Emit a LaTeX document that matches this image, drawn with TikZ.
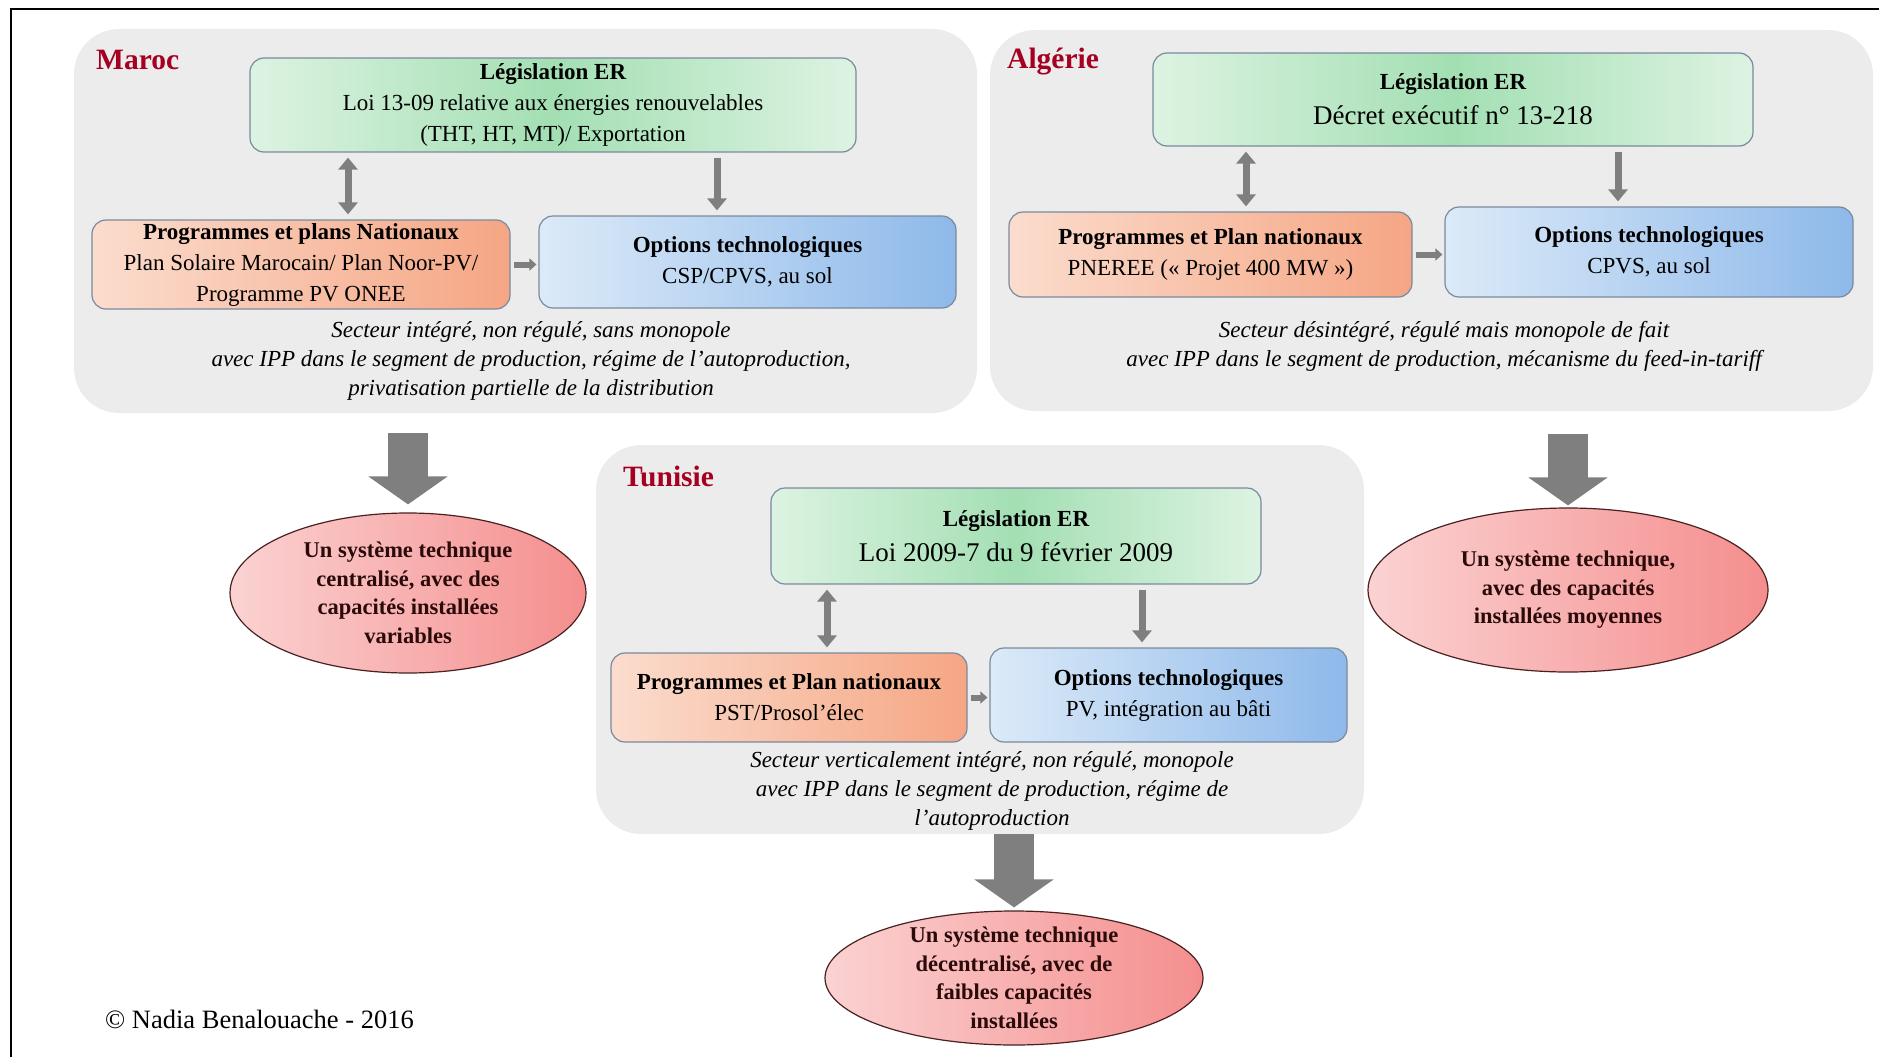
\documentclass[tikz,border=0pt]{standalone}
\usepackage{fontspec}
\setmainfont{Liberation Serif}
\usetikzlibrary{arrows.meta,calc,shapes.geometric}

\definecolor{panelgray}{HTML}{ECECEC}
\definecolor{boxedge}{HTML}{7A8A9E}
\definecolor{greenedge}{HTML}{DDF3E2}
\definecolor{greenmid}{HTML}{A3DFB3}
\definecolor{orangelight}{HTML}{FBDCCD}
\definecolor{orangedark}{HTML}{F5A684}
\definecolor{bluelight}{HTML}{DCEAF8}
\definecolor{bluedark}{HTML}{8EB9EA}
\definecolor{pinklight}{HTML}{FBD2D2}
\definecolor{pinkdark}{HTML}{F58E8E}
\definecolor{ellipseedge}{HTML}{4A2020}
\definecolor{resulttext}{HTML}{2B0A0A}
\definecolor{arrowgray}{HTML}{7F7F7F}
\definecolor{titlered}{HTML}{A50021}

\begin{document}
\begin{tikzpicture}[x=1pt,y=-1pt,
  every node/.style={font=\fontsize{23}{31}\selectfont, align=center, inner sep=0pt},
  panel/.style={fill=panelgray, rounded corners=45pt},
  box/.style={draw=boxedge, line width=1.2pt, rounded corners=14pt},
  legis/.style={box, left color=greenedge, right color=greenedge, middle color=greenmid},
  prog/.style={box, left color=orangelight, right color=orangedark},
  opt/.style={box, left color=bluelight, right color=bluedark},
  result/.style={ellipse, draw=ellipseedge, line width=1.2pt, left color=pinklight, right color=pinkdark,
    text=resulttext, font=\bfseries\fontsize{22.5}{28.5}\selectfont},
  country/.style={anchor=west, text=titlered, font=\bfseries\fontsize{29.5}{32}\selectfont},
  note/.style={font=\itshape\fontsize{23}{29}\selectfont},
  hd/.style={font=\fontsize{27}{35}\selectfont},
  link/.style={draw=arrowgray, line width=7pt, shorten <=5pt, shorten >=5pt, -{Triangle[width=19pt,length=12pt]}},
  dlink/.style={link, {Triangle[width=19pt,length=12pt]}-{Triangle[width=19pt,length=12pt]}},
  slink/.style={draw=arrowgray, line width=6pt, shorten <=3pt, shorten >=2pt, -{Triangle[width=12pt,length=7pt]}},
  bigarrow/.style={draw=arrowgray, line width=40pt, -{Triangle[width=78pt,length=28pt]}}]

  \useasboundingbox (0,0) rectangle (1879,1057);
  \draw[line width=2.5pt] (11,1080) -- (11,9) -- (1890,9);

  \node[panel, minimum width=903pt, minimum height=384pt] (maroc) at (525.5,221) {};
  \node[panel, minimum width=883pt, minimum height=381pt] (algerie) at (1431.5,220.5) {};
  \node[panel, minimum width=768pt, minimum height=389pt] (tunisie) at (980,639.5) {};

  \node[country] (tMaroc) at (96,60) {Maroc};
  \node[country] (tAlgerie) at (1007,62) {Algérie};
  \node[country] (tTunisie) at (623,476) {Tunisie};

  \node[legis, minimum width=606pt, minimum height=94pt] (legM) at (553,105)
    {{\fontsize{23}{31}\selectfont\bfseries Législation ER}\\Loi 13-09 relative aux énergies renouvelables\\(THT, HT, MT)/ Exportation};
  \node[prog, minimum width=418pt, minimum height=89pt] (progM) at (301,264.5)
    {{\fontsize{23}{31}\selectfont\bfseries Programmes et plans Nationaux}\\Plan Solaire Marocain/ Plan Noor-PV/\\Programme PV ONEE};
  \node[opt, minimum width=417pt, minimum height=92pt] (optM) at (747.5,262)
    {{\fontsize{23}{29}\selectfont\bfseries Options technologiques}\\CSP/CPVS, au sol};
  \node[note] (noteM) at (531,361)
    {Secteur intégré, non régulé, sans monopole\\avec IPP dans le segment de production, régime de l’autoproduction,\\privatisation partielle de la distribution};

  \node[legis, hd, minimum width=600pt, minimum height=93pt] (legA) at (1453,99.5)
    {{\fontsize{23}{35}\selectfont\bfseries Législation ER}\\Décret exécutif n° 13-218};
  \node[prog, minimum width=403pt, minimum height=85pt] (progA) at (1210.5,254.5)
    {{\fontsize{23}{31}\selectfont\bfseries Programmes et Plan nationaux}\\PNEREE («~Projet 400 MW~»)};
  \node[opt, minimum width=408pt, minimum height=90pt] (optA) at (1649,252)
    {{\fontsize{23}{29}\selectfont\bfseries Options technologiques}\\CPVS, au sol};
  \node[note] (noteA) at (1444,346.5)
    {Secteur désintégré, régulé mais monopole de fait\\avec IPP dans le segment de production, mécanisme du feed-in-tariff};

  \node[legis, hd, minimum width=490pt, minimum height=96pt] (legT) at (1016,536)
    {{\fontsize{23}{35}\selectfont\bfseries Législation ER}\\Loi 2009-7 du 9 février 2009};
  \node[prog, minimum width=356pt, minimum height=89pt] (progT) at (789,697.5)
    {{\fontsize{23}{31}\selectfont\bfseries Programmes et Plan nationaux}\\PST/Prosol’élec};
  \node[opt, minimum width=357pt, minimum height=94pt] (optT) at (1168.5,695)
    {{\fontsize{23}{29}\selectfont\bfseries Options technologiques}\\PV, intégration au bâti};
  \node[note] (noteT) at (992,791)
    {Secteur verticalement intégré, non régulé, monopole\\avec IPP dans le segment de production, régime de\\l’autoproduction};

  \node[result, minimum width=356pt, minimum height=160pt] (resM) at (408,593)
    {Un système technique\\centralisé, avec des\\capacités installées\\variables};
  \node[result, minimum width=400pt, minimum height=164pt] (resA) at (1568,590)
    {Un système technique,\\avec des capacités\\installées moyennes};
  \node[result, inner ysep=-6pt, minimum width=378pt, minimum height=134pt] (resT) at (1014,978)
    {Un système technique\\décentralisé, avec de\\faibles capacités\\installées};

  \node[anchor=west, font=\fontsize{26.5}{30}\selectfont] (copy) at (105,1019) {© Nadia Benalouache - 2016};

  \coordinate (xM1) at (348,0);
  \coordinate (xM2) at (717,0);
  \coordinate (xA1) at (1246,0);
  \coordinate (xA2) at (1618,0);
  \coordinate (xT1) at (827,0);
  \coordinate (xT2) at (1142,0);

  \draw[dlink] (legM.south -| xM1) -- (progM.north -| xM1);
  \draw[link] (legM.south -| xM2) -- (optM.north -| xM2);
  \draw[slink] (progM.east) -- (progM.east -| optM.west);
  \draw[dlink] (legA.south -| xA1) -- (progA.north -| xA1);
  \draw[link] (legA.south -| xA2) -- (optA.north -| xA2);
  \draw[slink] (progA.east) -- (progA.east -| optA.west);
  \draw[dlink] (legT.south -| xT1) -- (progT.north -| xT1);
  \draw[link] (legT.south -| xT2) -- (optT.north -| xT2);
  \draw[slink] (progT.east) -- (progT.east -| optT.west);

  \draw[bigarrow, shorten >=8pt] ([yshift=-20pt]maroc.south -| resM.north) -- (resM.north);
  \draw[bigarrow, shorten >=2pt] ([yshift=-23pt]algerie.south -| resA.north) -- (resA.north);
  \draw[bigarrow, shorten >=3pt] (tunisie.south -| resT.north) -- (resT.north);
\end{tikzpicture}
\end{document}
